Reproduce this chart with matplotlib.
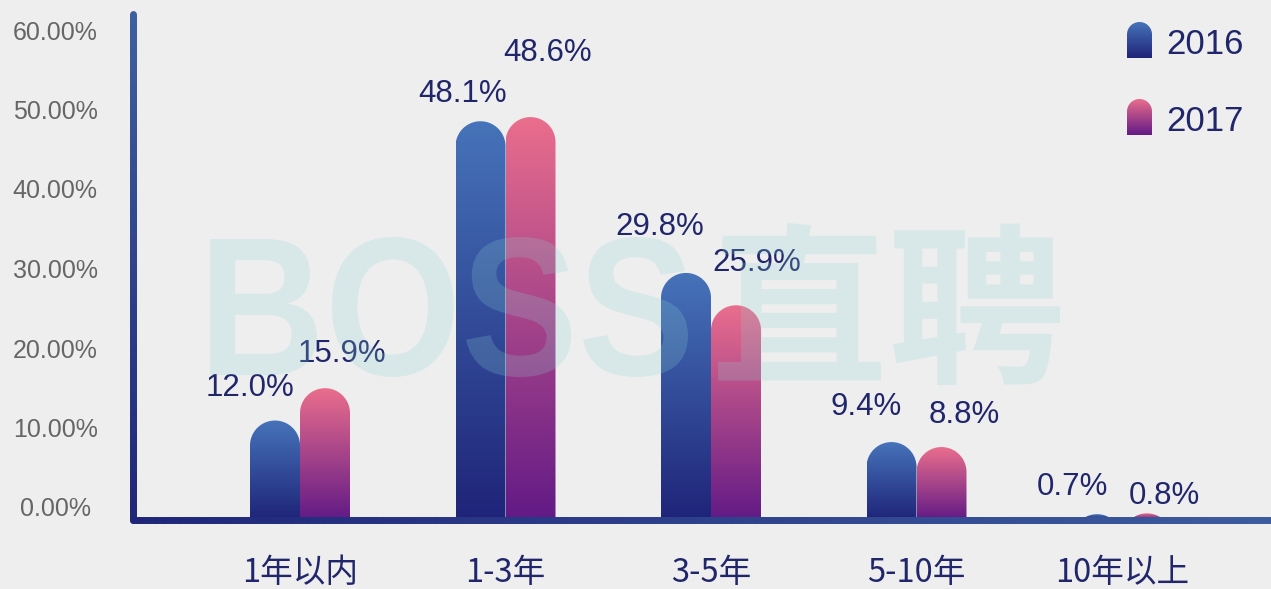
import numpy as np
import matplotlib
matplotlib.use('Agg')
import matplotlib.pyplot as plt
from matplotlib.colors import LinearSegmentedColormap
from matplotlib.path import Path
from matplotlib.patches import PathPatch
from matplotlib.collections import LineCollection
from matplotlib.textpath import TextPath
from matplotlib.font_manager import FontProperties
from matplotlib.transforms import Affine2D

categories = ['1年以内', '1-3年', '3-5年', '5-10年', '10年以上']
years = ['2016', '2017']
share_2016 = [12.0, 48.1, 29.8, 9.4, 0.7]
share_2017 = [15.9, 48.6, 25.9, 8.8, 0.8]
tick_labels = ['0.00%', '10.00%', '20.00%', '30.00%', '40.00%', '50.00%', '60.00%']

# label nudges in px: (dx from bar centre, baseline height above bar top)
nudge_2016 = [(-25, 25), (-18, 19), (-26, 38), (-25, 27), (-25, 19)]
nudge_2017 = [(17, 26), (17, 56), (21, 34), (23, 24), (17, 9)]

W, H = 1271, 589
BG = '#eeeeee'
NAVY = '#21266b'
blue_cm = LinearSegmentedColormap.from_list('b', ['#1f2479', '#4673b9'])
pink_cm = LinearSegmentedColormap.from_list('p', ['#621a86', '#ea6e8d'])
grad = np.linspace(0, 1, 256).reshape(-1, 1)

fig = plt.figure(figsize=(W / 100, H / 100), dpi=100, facecolor=BG)
ax = fig.add_axes([133 / W, (H - 520) / H, (W - 133) / W, (520 - 14) / H])
ax.set_facecolor('none')
xlim = (-167 / 205.5, (W - 300) / 205.5)
ylim = (0, 506 / 8.29)
ax.set_xlim(*xlim)
ax.set_ylim(*ylim)
for s in ax.spines.values():
    s.set_visible(False)

x = np.arange(len(categories))
bw = 50 / 205.5
bars_a = ax.bar(x - bw / 2, share_2016, bw, color='none', linewidth=0)
bars_b = ax.bar(x + bw / 2, share_2017, bw, color='none', linewidth=0)

# size of one data unit in pixels, so the caps come out round
p0 = ax.transData.transform((0, 0))
p1 = ax.transData.transform((1, 1))
ry_ratio = (p1[0] - p0[0]) / (p1[1] - p0[1])


def capsule(ax, x0, w, h, cmap):
    rx = w / 2
    ry = rx * ry_ratio
    xc = x0 + rx
    base = h - ry
    t = np.linspace(np.pi, 0, 60)
    verts = [(x0, -2 * ry), (x0, base)]
    verts += list(zip(xc + rx * np.cos(t), base + ry * np.sin(t)))
    verts += [(x0 + w, -2 * ry), (x0, -2 * ry)]
    patch = PathPatch(Path(verts, closed=True), facecolor='none', edgecolor='none')
    ax.add_patch(patch)
    im = ax.imshow(grad, cmap=cmap, extent=(x0, x0 + w, 0, h), origin='lower',
                   aspect='auto', interpolation='bicubic', zorder=2)
    im.set_clip_path(patch)


for bars, cm in ((bars_a, blue_cm), (bars_b, pink_cm)):
    for r in bars:
        capsule(ax, r.get_x(), r.get_width(), r.get_height(), cm)

for bars, vals, nudge in ((bars_a, share_2016, nudge_2016), (bars_b, share_2017, nudge_2017)):
    for r, v, (dx, dy) in zip(bars, vals, nudge):
        ax.annotate(f'{v:.1f}%', xy=(r.get_x() + r.get_width() / 2, v),
                    xytext=(dx * 0.72, dy * 0.72), textcoords='offset points',
                    ha='center', va='baseline', fontsize=22.5, color=NAVY,
                    family='Liberation Sans', zorder=6)


def grad_line(ax, xs, ys, c0, c1, lw=5.0):
    n = 150
    px = np.linspace(xs[0], xs[1], n + 1)
    py = np.linspace(ys[0], ys[1], n + 1)
    segs = np.stack([np.column_stack([px[:-1], py[:-1]]),
                     np.column_stack([px[1:], py[1:]])], axis=1)
    cm = LinearSegmentedColormap.from_list('l', [c0, c1])
    lc = LineCollection(segs, colors=cm(np.linspace(0, 1, n)), linewidths=lw,
                        capstyle='round', clip_on=False, zorder=5)
    ax.add_collection(lc)


grad_line(ax, (xlim[0], xlim[0]), (0, ylim[1]), '#1f2679', '#3e5f9f')
grad_line(ax, (xlim[0], xlim[1]), (0, 0), '#1f2679', '#3c5b9d')

ax.set_yticks(np.linspace((520 - 507) / 8.29, (520 - 30) / 8.29, 7))
ax.set_yticklabels(tick_labels, family='Liberation Sans', fontsize=18, color='#666666')
for lab in ax.get_yticklabels():
    lab.set_horizontalalignment('center')
ax.tick_params(axis='y', length=0, pad=56)
ax.set_xticks(x)
ax.set_xticklabels(categories, family=['Noto Sans CJK SC', 'DejaVu Sans'], fontsize=23.5, color=NAVY)
ax.tick_params(axis='x', length=0, pad=26.5)
ax.set_xlim(*xlim)
ax.set_ylim(*ylim)

# overlay in pixel coordinates: watermark and legend
ov = fig.add_axes([0, 0, 1, 1])
ov.set_facecolor('none')
ov.axis('off')


def boxed_text(ov, s, box, family, **kw):
    tp = TextPath((0, 0), s, size=100, prop=FontProperties(family=family, weight='bold'))
    ext = tp.get_extents()
    bx0, by0, bx1, by1 = box
    tr = Affine2D().translate(-ext.x0, -ext.y1).scale((bx1 - bx0) / ext.width,
                                                     -(by1 - by0) / ext.height).translate(bx0, by0)
    ov.add_patch(PathPatch(tr.transform_path(tp), **kw))


wm = dict(facecolor='#8cd2d2', edgecolor='none', alpha=0.22)
boxed_text(ov, 'BOSS', (210, 237, 688, 377), 'Liberation Sans', **wm)
boxed_text(ov, '直聘', (718, 223, 1060, 385), 'Noto Sans CJK SC', **wm)

for i, (yr, cm) in enumerate(zip(years, (blue_cm, pink_cm))):
    top = 22 + 77 * i
    bot = top + 36
    x0, x1 = 1127, 1152
    r = (x1 - x0) / 2
    t = np.linspace(np.pi, 0, 40)
    verts = [(x0, bot), (x0, top + r)]
    verts += list(zip(x0 + r + r * np.cos(t), top + r - r * np.sin(t)))
    verts += [(x1, bot), (x0, bot)]
    patch = PathPatch(Path(verts, closed=True), facecolor='none', edgecolor='none')
    ov.add_patch(patch)
    im = ov.imshow(grad, cmap=cm, extent=(x0, x1, bot, top), origin='lower',
                   aspect='auto', interpolation='bicubic')
    im.set_clip_path(patch)
    ov.text(1166, top + 32, yr, fontsize=25, color=NAVY, family='Liberation Sans',
            ha='left', va='baseline')

ov.set_xlim(0, W)
ov.set_ylim(H, 0)

fig.savefig('out.png', dpi=100, facecolor=BG)
